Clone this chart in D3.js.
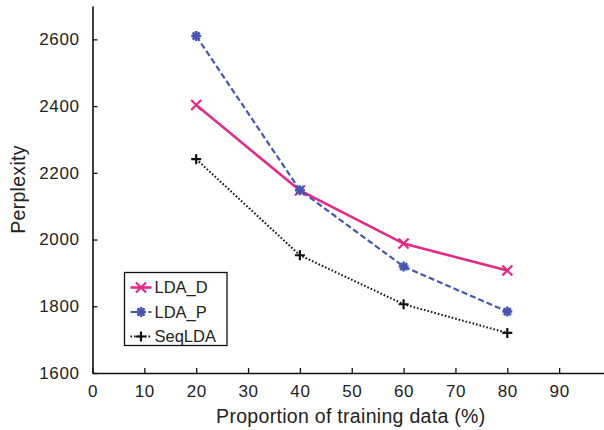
<!DOCTYPE html>
<html>
<head>
<meta charset="utf-8">
<script src="https://cdn.jsdelivr.net/npm/d3@7"></script>
<style>
  body { margin: 0; background: #fff; }
  text { font-family: "Liberation Sans", Arial, Helvetica, sans-serif; fill: #222; }
</style>
</head>
<body>
<div id="chart"></div>
<script>
const WIDTH  = 604;
const HEIGHT = 430;
const MARGIN = { top: 6, left: 92.5, bottom: 57, right: -7 };

// data
const proportions = [20, 40, 60, 80];
const ldaD   = [2403, 2147, 1988, 1907];
const ldaP   = [2610, 2148, 1919, 1784];
const seqLDA = [2241, 1953, 1806, 1720];
const xTicks = [0, 10, 20, 30, 40, 50, 60, 70, 80, 90];
const yTicks = [1600, 1800, 2000, 2200, 2400, 2600];

const SERIES = [
  { name: 'LDA_D',  values: ldaD,   color: '#e22a86', dash: null,  width: 2.6, marker: 'x' },
  { name: 'LDA_P',  values: ldaP,   color: '#4757b0', dash: '6,3', width: 2.2, marker: 'star' },
  { name: 'SeqLDA', values: seqLDA, color: '#111',    dash: '1.6,2', width: 2, marker: 'plus' }
];

var svg = d3.select('#chart').append('svg')
  .attr('width', WIDTH)
  .attr('height', HEIGHT);

var x = d3.scaleLinear()
  .domain([0, 100])
  .range([MARGIN.left, WIDTH - MARGIN.right]);
var y = d3.scaleLinear()
  .domain([1600, 2700])
  .range([HEIGHT - MARGIN.bottom, MARGIN.top]);

// marker shapes
function drawMarker(g, type, cx, cy, color) {
  let r = 5;
  let d = '';
  if (type === 'x') {
    d = `M${cx - r},${cy - r}L${cx + r},${cy + r}M${cx - r},${cy + r}L${cx + r},${cy - r}`;
  } else if (type === 'plus') {
    d = `M${cx - r},${cy}L${cx + r},${cy}M${cx},${cy - r}L${cx},${cy + r}`;
  } else {
    for (let a = 0; a < 4; a++) {
      let t = a * Math.PI / 4;
      d += `M${cx - r * Math.cos(t)},${cy - r * Math.sin(t)}L${cx + r * Math.cos(t)},${cy + r * Math.sin(t)}`;
    }
  }
  g.append('path')
    .attr('d', d)
    .style('stroke', color)
    .style('stroke-width', type === 'star' ? 2.5 : 2.2)
    .style('fill', 'none');
}

// Axes
var xAxis = svg.append('g')
  .attr('transform', `translate(0,${y(1600)})`)
  .call(d3.axisBottom(x).tickValues(xTicks).tickFormat(d3.format('d'))
    .tickSize(-5).tickPadding(12).tickSizeOuter(0));
var yAxis = svg.append('g')
  .attr('transform', `translate(${x(0)},0)`)
  .call(d3.axisLeft(y).tickValues(yTicks).tickFormat(d3.format('d'))
    .tickSize(-5).tickPadding(13).tickSizeOuter(0));

for (let ax of [xAxis, yAxis]) {
  ax.select('.domain').style('stroke', '#111').style('stroke-width', 1.6);
  ax.selectAll('.tick line').style('stroke', '#111').style('stroke-width', 1.3);
  ax.selectAll('.tick text')
    .style('font-size', '17px')
    .style('letter-spacing', '0.6px')
    .style('fill', '#222');
}
xAxis.selectAll('.tick text').attr('dy', '0.71em');

// Axis labels
svg.append('text')
  .attr('x', (x(0) + x(90)) / 2 + 25)
  .attr('y', 423)
  .attr('text-anchor', 'middle')
  .style('font-size', '19.5px')
  .style('letter-spacing', '0.3px')
  .text('Proportion of training data (%)');

svg.append('text')
  .attr('transform', `translate(25,${y(2150)}) rotate(-90)`)
  .attr('text-anchor', 'middle')
  .style('font-size', '19.5px')
  .style('letter-spacing', '0.3px')
  .text('Perplexity');

// Lines
var line = d3.line()
  .x((d, i) => x(proportions[i]))
  .y(d => y(d));

for (let s of SERIES) {
  let g = svg.append('g');
  g.append('path')
    .datum(s.values)
    .attr('d', line)
    .style('fill', 'none')
    .style('stroke', s.color)
    .style('stroke-width', s.width)
    .style('stroke-dasharray', s.dash);
  s.values.forEach((v, i) => drawMarker(g, s.marker, x(proportions[i]), y(v), s.color));
}

// Legend
var legend = svg.append('g').attr('transform', 'translate(124.5,272.5)');
legend.append('rect')
  .attr('width', 102.5)
  .attr('height', 73)
  .style('fill', '#fff')
  .style('stroke', '#111')
  .style('stroke-width', 1.3);

SERIES.forEach((s, i) => {
  let cy = 15 + i * 24.5;
  legend.append('line')
    .attr('x1', 6).attr('x2', 27)
    .attr('y1', cy).attr('y2', cy)
    .style('stroke', s.color)
    .style('stroke-width', s.width)
    .style('stroke-dasharray', s.dash);
  drawMarker(legend, s.marker, 16.5, cy, s.color);
  legend.append('text')
    .attr('x', 30)
    .attr('y', cy)
    .attr('dy', '0.35em')
    .style('font-size', '16.5px')
    .text(s.name);
});
</script>
</body>
</html>
